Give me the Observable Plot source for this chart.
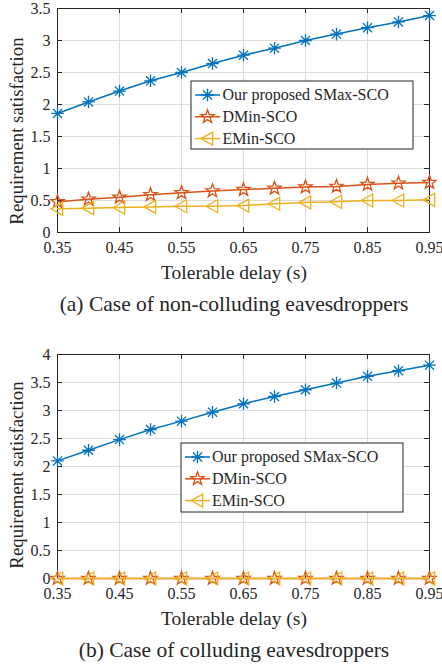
<!DOCTYPE html>
<html><head><meta charset="utf-8">
<script src="https://cdn.jsdelivr.net/npm/d3@7"></script>
<script src="https://cdn.jsdelivr.net/npm/@observablehq/plot@0.6"></script>
<style>
body{margin:0;background:#fff;}
#fig{position:relative;width:442px;height:669px;font-family:"Liberation Serif","DejaVu Serif",serif;color:#262626;background:#fff;overflow:hidden;}
.panel{position:absolute;left:0;}
.cap{position:absolute;left:0;width:468px;text-align:center;font-size:21.5px;line-height:21px;white-space:nowrap;}
</style></head><body>
<div id="fig">
  <div class="panel" id="pa" style="top:0px"></div>
  <div class="cap" style="top:294px">(a)&nbsp;Case of non-colluding eavesdroppers</div>
  <div class="panel" id="pb" style="top:344px"></div>
  <div class="cap" style="top:640px">(b)&nbsp;Case of colluding eavesdroppers</div>
</div>
<script>
// ---- data ----
const delay = [0.35, 0.40, 0.45, 0.50, 0.55, 0.60, 0.65, 0.70, 0.75, 0.80, 0.85, 0.90, 0.95];
const seriesNames = ["Our proposed SMax-SCO", "DMin-SCO", "EMin-SCO"];
// (a) non-colluding
const smaxA = [1.86, 2.04, 2.21, 2.37, 2.50, 2.64, 2.77, 2.88, 3.00, 3.10, 3.20, 3.29, 3.39];
const dminA = [0.48, 0.52, 0.55, 0.59, 0.62, 0.65, 0.67, 0.69, 0.71, 0.72, 0.75, 0.77, 0.78];
const eminA = [0.37, 0.38, 0.39, 0.40, 0.41, 0.41, 0.42, 0.45, 0.47, 0.48, 0.50, 0.50, 0.51];
// (b) colluding
const smaxB = [2.10, 2.29, 2.48, 2.66, 2.81, 2.97, 3.12, 3.25, 3.37, 3.49, 3.61, 3.71, 3.81];
const dminB = [0, 0, 0, 0, 0, 0, 0, 0, 0, 0, 0, 0, 0];
const eminB = [0, 0, 0, 0, 0, 0, 0, 0, 0, 0, 0, 0, 0];
// ticks
const xTicks = [0.35, 0.45, 0.55, 0.65, 0.75, 0.85, 0.95];
const yTicksA = [0, 0.5, 1, 1.5, 2, 2.5, 3, 3.5];
const yTicksB = [0, 0.5, 1, 1.5, 2, 2.5, 3, 3.5, 4];
const xLabel = "Tolerable delay (s)";
const yLabel = "Requirement satisfaction";
const FONT = '"Liberation Serif","DejaVu Serif",serif';

// ---- marker symbols (MATLAB style) ----
const asterisk = {draw(ctx, size) {
  const r = Math.sqrt(size / Math.PI), d = r * 0.72;
  ctx.moveTo(0, -r); ctx.lineTo(0, r);
  ctx.moveTo(-r, 0); ctx.lineTo(r, 0);
  ctx.moveTo(-d, -d); ctx.lineTo(d, d);
  ctx.moveTo(-d, d); ctx.lineTo(d, -d);
}};
const pentagram = {draw(ctx, size) {
  const R = Math.sqrt(size / Math.PI), ri = R * 0.4;
  for (let i = 0; i < 10; i++) {
    const a = -Math.PI / 2 + i * Math.PI / 5, rr = i % 2 ? ri : R;
    const x = rr * Math.cos(a), y = rr * Math.sin(a);
    if (i) ctx.lineTo(x, y); else ctx.moveTo(x, y);
  }
  ctx.closePath();
}};
const triLeft = {draw(ctx, size) {
  const r = Math.sqrt(size / Math.PI);
  ctx.moveTo(-r, 0); ctx.lineTo(r * 0.8, -r); ctx.lineTo(r * 0.8, r); ctx.closePath();
}};
const styles = [
  {color: "#0072BD", symbol: asterisk, r: 6.3},
  {color: "#D95319", symbol: pentagram, r: 7},
  {color: "#EDB120", symbol: triLeft, r: 6.5}
];
const ink = "#262626";

function panel(el, cfg) {
  const {height, marginTop, marginBottom, yMax, yTicks, values, legend} = cfg;
  const marginLeft = 57, marginRight = 13, width = 442;
  const plotH = height - marginTop - marginBottom;
  const plotW = width - marginLeft - marginRight;
  const data = [];
  values.forEach((vals, si) => vals.forEach((v, i) => data.push({x: delay[i], y: v, s: si})));
  const marks = [
    Plot.gridX(xTicks, {stroke: "#dcdcdc", strokeOpacity: 1}),
    Plot.gridY(yTicks, {stroke: "#dcdcdc", strokeOpacity: 1}),
    Plot.axisX(xTicks, {tickSize: 0, tickPadding: 9, tickFormat: d => d.toFixed(2), label: null, fill: ink, fontSize: 16, fontFamily: FONT}),
    Plot.axisY(yTicks, {tickSize: 0, tickPadding: 7, tickFormat: d => String(d), label: null, fill: ink, fontSize: 16, fontFamily: FONT}),
    Plot.tickX(xTicks, {x: d => d, insetTop: plotH - 5, stroke: ink}),
    Plot.tickX(xTicks, {x: d => d, insetBottom: plotH - 5, stroke: ink}),
    Plot.tickY(yTicks, {y: d => d, insetRight: plotW - 5, stroke: ink}),
    Plot.tickY(yTicks, {y: d => d, insetLeft: plotW - 5, stroke: ink}),
    Plot.frame({stroke: ink, strokeWidth: 1})
  ];
  styles.forEach((st, si) => {
    const sub = data.filter(d => d.s === si);
    marks.push(Plot.line(sub, {x: "x", y: "y", stroke: st.color, strokeWidth: 1.5}));
    marks.push(Plot.dot(sub, {x: "x", y: "y", symbol: st.symbol, r: st.r, stroke: st.color, strokeWidth: 1.3, fill: "none"}));
  });
  const chart = Plot.plot({
    width, height, marginTop, marginBottom, marginLeft, marginRight,
    style: {fontFamily: FONT, fontSize: "16px", color: ink, background: "white", overflow: "visible"},
    x: {type: "linear", domain: [0.35, 0.95]},
    y: {type: "linear", domain: [0, yMax]},
    marks
  });
  el.appendChild(chart);
  const svg = d3.select(chart);
  // axis titles
  svg.append("text").text(xLabel)
    .attr("x", 234).attr("y", marginTop + plotH + 47)
    .attr("text-anchor", "middle").attr("font-size", 19.5).attr("font-family", FONT).attr("fill", ink);
  svg.append("text").text(yLabel)
    .attr("transform", `translate(23,131) rotate(-90)`)
    .attr("text-anchor", "middle").attr("font-size", 18.8).attr("font-family", FONT).attr("fill", ink);
  // legend
  const g = svg.append("g").attr("transform", `translate(${legend.x},${legend.y})`);
  g.append("rect").attr("width", 222).attr("height", legend.h)
    .attr("fill", "white").attr("stroke", ink).attr("stroke-width", 1);
  styles.forEach((st, i) => {
    const cy = 14 + i * 21.8;
    g.append("line").attr("x1", 4).attr("x2", 29).attr("y1", cy).attr("y2", cy)
      .attr("stroke", st.color).attr("stroke-width", 1.5);
    g.append("path").attr("d", d3.symbol(st.symbol, Math.PI * st.r * st.r)())
      .attr("transform", `translate(16.5,${cy})`)
      .attr("fill", "none").attr("stroke", st.color).attr("stroke-width", 1.3);
    g.append("text").text(seriesNames[i]).attr("x", legend.tx).attr("y", cy)
      .attr("dy", "0.33em").attr("text-anchor", "start").attr("font-size", 16)
      .attr("font-family", FONT).attr("fill", ink);
  });
}

panel(document.getElementById("pa"), {
  height: 285, marginTop: 8, marginBottom: 53, yMax: 3.5, yTicks: yTicksA,
  values: [smaxA, dminA, eminA], legend: {x: 191, y: 81, h: 68, tx: 31.5}
});
panel(document.getElementById("pb"), {
  height: 284, marginTop: 10, marginBottom: 50, yMax: 4, yTicks: yTicksB,
  values: [smaxB, dminB, eminB], legend: {x: 181, y: 99, h: 69, tx: 31}
});
</script>
</body></html>
